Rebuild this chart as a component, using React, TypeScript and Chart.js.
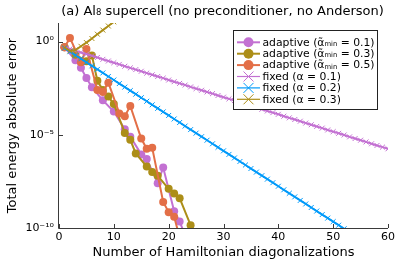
import React, { useEffect, useRef } from "react";
import { Chart, registerables } from "chart.js";
Chart.register(...registerables);

const FONT = "'DejaVu Sans', sans-serif";

// x = number of Hamiltonian diagonalizations, y = log10(total energy absolute error)
const adaptive01X = [1, 3, 4, 5, 6, 8, 10, 12, 13, 15, 16, 18, 19, 21, 22, 23];
const adaptive01Log = [-0.3, -1.0, -1.4, -1.95, -2.45, -3.15, -3.75, -4.7, -5.1, -6.05, -6.3, -7.6, -6.75, -9.1, -9.65, -10.4];

const adaptive03X = [1, 3, 5, 6, 7, 8, 9, 10, 12, 13, 14, 16, 17, 18, 20, 21, 22, 24];
const adaptive03Log = [-0.3, -0.7, -1.05, -0.75, -2.1, -2.6, -2.95, -3.35, -4.9, -5.27, -6.0, -6.7, -7.0, -7.2, -7.9, -8.15, -8.4, -9.85];

const adaptive05X = [1, 2, 4, 5, 7, 8, 9, 11, 12, 13, 15, 16, 17, 19, 20, 21, 22];
const adaptive05Log = [-0.3, 0.2, -1.1, -0.4, -2.6, -2.7, -2.2, -3.85, -4.0, -3.45, -5.2, -5.75, -5.7, -8.6, -9.15, -9.4, -10.5];

const fixed01Log = [
  -0.30, -0.39, -0.48, -0.58, -0.67, -0.76, -0.85, -0.95, -1.04, -1.13,
  -1.22, -1.32, -1.41, -1.50, -1.59, -1.69, -1.78, -1.87, -1.96, -2.06,
  -2.15, -2.24, -2.33, -2.43, -2.52, -2.61, -2.70, -2.79, -2.89, -2.98,
  -3.07, -3.16, -3.26, -3.35, -3.44, -3.53, -3.63, -3.72, -3.81, -3.90,
  -4.00, -4.09, -4.18, -4.27, -4.37, -4.46, -4.55, -4.64, -4.74, -4.83,
  -4.92, -5.01, -5.11, -5.20, -5.29, -5.38, -5.48, -5.57, -5.66, -5.75,
];
const fixed02Log = [
  -0.35, -0.54, -0.73, -0.92, -1.11, -1.30, -1.49, -1.68, -1.87, -2.06,
  -2.25, -2.44, -2.63, -2.82, -3.01, -3.20, -3.39, -3.58, -3.77, -3.96,
  -4.15, -4.34, -4.53, -4.72, -4.91, -5.10, -5.29, -5.48, -5.67, -5.86,
  -6.05, -6.24, -6.43, -6.62, -6.81, -7.00, -7.19, -7.38, -7.57, -7.76,
  -7.95, -8.14, -8.33, -8.52, -8.71, -8.90, -9.09, -9.28, -9.47, -9.66,
  -9.85, -10.04,
];
const fixed03Log = [-0.3, -0.5, -0.45, -0.25, -0.05, 0.17, 0.4, 0.62, 0.84, 1.06, 1.28];

const xTickValues = [0, 10, 20, 30, 40, 50, 60];
const yTickValues = [1, 1e-5, 1e-10];
const yTickLabels = ["10⁰", "10⁻⁵", "10⁻¹⁰"];

const PURPLE = "#c371d2";
const OLIVE = "#ac8e18";
const ORANGE = "#e36f47";
const BLUE = "#009afa";

const legendItems = [
  { kind: "circle", color: PURPLE, pre: "adaptive (α̃", sub: "min", post: " = 0.1)" },
  { kind: "circle", color: OLIVE, pre: "adaptive (α̃", sub: "min", post: " = 0.3)" },
  { kind: "circle", color: ORANGE, pre: "adaptive (α̃", sub: "min", post: " = 0.5)" },
  { kind: "cross", color: PURPLE, pre: "fixed (α = 0.1)", sub: "", post: "" },
  { kind: "cross", color: BLUE, pre: "fixed (α = 0.2)", sub: "", post: "" },
  { kind: "cross", color: OLIVE, pre: "fixed (α = 0.3)", sub: "", post: "" },
];

const pts = (xs: number[], logs: number[]) => logs.map((l, k) => ({ x: xs[k], y: Math.pow(10, l) }));
const ptsSeq = (logs: number[]) => logs.map((l, k) => ({ x: k + 1, y: Math.pow(10, l) }));

function drawPieces(ctx: CanvasRenderingContext2D, pieces: { t: string; size: number; dy: number }[], x: number, y: number, align: "left" | "center") {
  let total = 0;
  const widths = pieces.map((p) => {
    ctx.font = `${p.size}px ${FONT}`;
    const w = ctx.measureText(p.t).width;
    total += w;
    return w;
  });
  let cx = align === "center" ? x - total / 2 : x;
  pieces.forEach((p, i) => {
    ctx.font = `${p.size}px ${FONT}`;
    ctx.fillText(p.t, cx, y + p.dy);
    cx += widths[i];
  });
}

const decor = {
  id: "decor",
  afterDraw(chart: any) {
    const ctx: CanvasRenderingContext2D = chart.ctx;
    const { left, right, top, bottom } = chart.chartArea;
    const xs = chart.scales.x;
    const ys = chart.scales.y;
    ctx.save();
    // axes
    ctx.strokeStyle = "#3a3a3a";
    ctx.lineWidth = 1;
    ctx.beginPath();
    ctx.moveTo(Math.round(left) - 0.5, top);
    ctx.lineTo(Math.round(left) - 0.5, Math.round(bottom) + 0.5);
    ctx.lineTo(right, Math.round(bottom) + 0.5);
    for (const v of xTickValues) {
      const px = Math.round(xs.getPixelForValue(v)) + 0.5;
      ctx.moveTo(px, bottom);
      ctx.lineTo(px, bottom - 4);
    }
    for (const v of yTickValues) {
      const py = Math.round(ys.getPixelForValue(v)) + 0.5;
      ctx.moveTo(left, py);
      ctx.lineTo(left + 4, py);
    }
    ctx.stroke();

    // title
    ctx.fillStyle = "#000";
    ctx.textBaseline = "alphabetic";
    drawPieces(
      ctx,
      [
        { t: "(a) Al", size: 13, dy: 0 },
        { t: "8", size: 8.5, dy: 0.5 },
        { t: " supercell (no preconditioner, no Anderson)", size: 13, dy: 0 },
      ],
      (left + right) / 2 - 1,
      14.5,
      "center"
    );

    // legend
    const bx = 233.5, by = 30.5, bw = 144, bh = 79;
    ctx.fillStyle = "#fff";
    ctx.fillRect(bx, by, bw, bh);
    ctx.strokeStyle = "#222";
    ctx.lineWidth = 1;
    ctx.strokeRect(bx, by, bw, bh);
    legendItems.forEach((it, i) => {
      const cy = 42.3 + i * 11.4;
      ctx.strokeStyle = it.color;
      ctx.lineWidth = it.kind === "circle" ? 2 : 1.2;
      ctx.beginPath();
      ctx.moveTo(237, cy);
      ctx.lineTo(260, cy);
      ctx.stroke();
      if (it.kind === "circle") {
        ctx.fillStyle = it.color;
        ctx.beginPath();
        ctx.arc(248.5, cy, 5, 0, Math.PI * 2);
        ctx.fill();
      } else {
        ctx.lineWidth = 1;
        ctx.beginPath();
        ctx.moveTo(243.5, cy - 5);
        ctx.lineTo(253.5, cy + 5);
        ctx.moveTo(243.5, cy + 5);
        ctx.lineTo(253.5, cy - 5);
        ctx.stroke();
      }
      ctx.fillStyle = "#000";
      ctx.textBaseline = "middle";
      drawPieces(
        ctx,
        [
          { t: it.pre, size: 10.8, dy: 0 },
          { t: it.sub, size: 6.8, dy: 1.5 },
          { t: it.post, size: 10.8, dy: 0 },
        ],
        262.5,
        cy + 0.5,
        "left"
      );
    });
    ctx.restore();
  },
};

export default function App() {
  const ref = useRef<HTMLCanvasElement | null>(null);
  useEffect(() => {
    if (!ref.current) return;
    const circle = (color: string, order: number, data: any[], label: string) => ({
      label,
      data,
      order,
      showLine: true,
      borderColor: color,
      backgroundColor: color,
      borderWidth: 2,
      pointRadius: 4,
      pointBorderWidth: 0,
      pointBackgroundColor: color,
      pointStyle: "circle",
    });
    const cross = (color: string, order: number, data: any[], label: string) => ({
      label,
      data,
      order,
      showLine: true,
      borderColor: color,
      backgroundColor: color,
      borderWidth: 2,
      pointRadius: 3.5,
      pointBorderWidth: 1,
      pointBorderColor: color,
      pointStyle: "crossRot",
    });
    const chart = new Chart(ref.current, {
      type: "scatter",
      data: {
        datasets: [
          circle(PURPLE, 6, pts(adaptive01X, adaptive01Log), "adaptive 0.1"),
          circle(OLIVE, 5, pts(adaptive03X, adaptive03Log), "adaptive 0.3"),
          circle(ORANGE, 4, pts(adaptive05X, adaptive05Log), "adaptive 0.5"),
          cross(PURPLE, 3, ptsSeq(fixed01Log), "fixed 0.1"),
          cross(BLUE, 2, ptsSeq(fixed02Log), "fixed 0.2"),
          cross(OLIVE, 1, ptsSeq(fixed03Log), "fixed 0.3"),
        ] as any,
      },
      options: {
        animation: false,
        responsive: false,
        layout: { padding: { left: 0, right: 11, top: 23, bottom: 0 } },
        plugins: { legend: { display: false }, tooltip: { enabled: false }, title: { display: false } },
        scales: {
          x: {
            type: "linear",
            min: 0,
            max: 60,
            grid: { display: false, drawTicks: false },
            border: { display: false },
            afterBuildTicks: (s: any) => {
              s.ticks = xTickValues.map((v) => ({ value: v }));
            },
            afterFit: (s: any) => {
              s.height = 38;
            },
            ticks: { color: "#000", font: { family: FONT, size: 11 }, padding: 3, maxRotation: 0 },
            title: {
              display: true,
              text: "Number of Hamiltonian diagonalizations",
              color: "#000",
              font: { family: FONT, size: 13 },
              padding: { top: 0, bottom: 6 },
            },
          },
          y: {
            type: "logarithmic",
            min: 1e-10,
            max: 10,
            grid: { display: false, drawTicks: false },
            border: { display: false },
            afterBuildTicks: (s: any) => {
              s.ticks = yTickValues.map((v) => ({ value: v }));
            },
            afterFit: (s: any) => {
              s.width = 59;
            },
            ticks: {
              color: "#000",
              font: { family: FONT, size: 11 },
              padding: 5,
              callback: (v: any) => {
                const k = yTickValues.findIndex((t) => Math.abs(Math.log10(t) - Math.log10(Number(v))) < 1e-6);
                return k >= 0 ? yTickLabels[k] : "";
              },
            },
            title: {
              display: true,
              text: "Total energy absolute error",
              color: "#000",
              font: { family: FONT, size: 13 },
              padding: { top: 4.5, bottom: 0 },
            },
          },
        },
      },
      plugins: [decor],
    } as any);
    return () => chart.destroy();
  }, []);
  return (
    <div style={{ position: "absolute", left: 0, top: 0, width: 399, height: 266, background: "#fff" }}>
      <canvas ref={ref} width={399} height={266} />
    </div>
  );
}
